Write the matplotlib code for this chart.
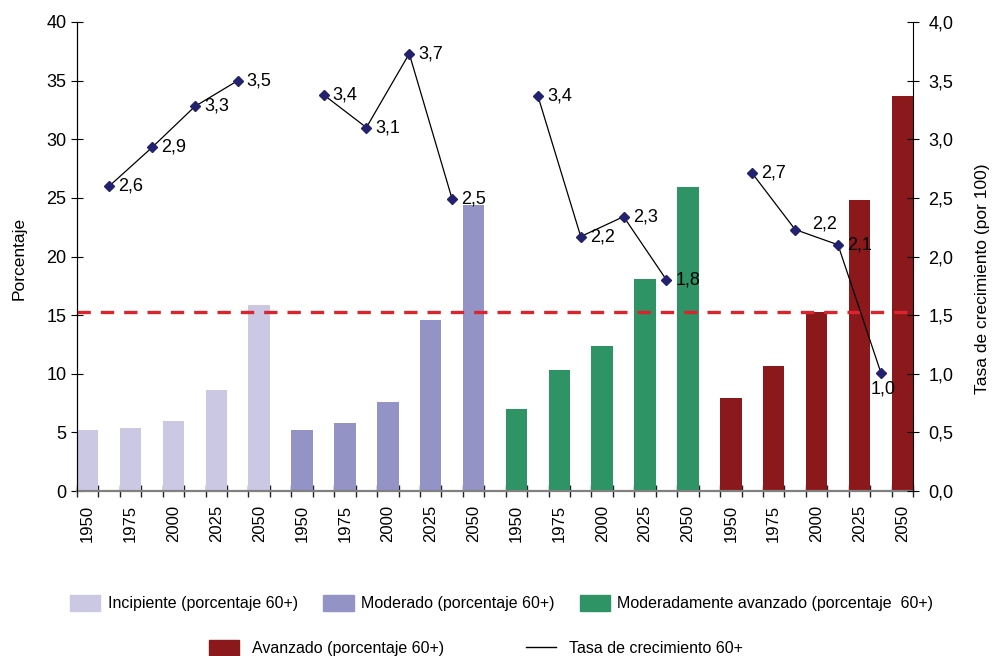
import matplotlib
matplotlib.use("Agg")
import matplotlib.pyplot as plt
from matplotlib.patches import Patch
from matplotlib.lines import Line2D

plt.rcParams["font.family"] = ["Liberation Sans", "DejaVu Sans"]

# Datos
anios = ["1950", "1975", "2000", "2025", "2050"]
incipiente = [5.2, 5.4, 6.0, 8.6, 15.9]
moderado = [5.2, 5.8, 7.6, 14.6, 24.4]
mod_avanzado = [7.0, 10.3, 12.4, 18.1, 25.9]
avanzado = [7.9, 10.7, 15.3, 24.8, 33.7]

tasa_incipiente = [2.60, 2.93, 3.28, 3.50]
tasa_moderado = [3.38, 3.10, 3.73, 2.49]
tasa_mod_avanzado = [3.37, 2.17, 2.34, 1.80]
tasa_avanzado = [2.71, 2.23, 2.10, 1.01]

umbral = 15.3

grupos = [
    ("Incipiente (porcentaje 60+)", incipiente, tasa_incipiente, "#cac8e3"),
    ("Moderado (porcentaje 60+)", moderado, tasa_moderado, "#9393c6"),
    ("Moderadamente avanzado (porcentaje  60+)", mod_avanzado, tasa_mod_avanzado, "#2e9466"),
    ("Avanzado (porcentaje 60+)", avanzado, tasa_avanzado, "#8b181b"),
]

fig = plt.figure(figsize=(9.92, 6.56), dpi=100)
ax = fig.add_axes([77 / 992, 1 - 491 / 656, (913 - 77) / 992, (491 - 22) / 656])
ax2 = ax.twinx()

# Cada barra ocupa una casilla, con una casilla vacia entre barras
centros = []
etiquetas = []
for g, (nombre, valores, tasas, color) in enumerate(grupos):
    xs = [10 * g + 2 * i + 0.5 for i in range(len(valores))]
    ax.bar(xs, valores, width=1.0, color=color, zorder=2)
    centros += xs
    etiquetas += anios

    # tasa de crecimiento entre barras
    xt = [10 * g + 2 * i + 1.5 for i in range(len(tasas))]
    ax2.plot(xt, tasas, color="black", lw=0.9, marker="D", markersize=5,
             markerfacecolor="#22226e", markeredgecolor="#22226e", zorder=4)
    for i, (x, v) in enumerate(zip(xt, tasas)):
        texto = f"{v:.1f}".replace(".", ",")
        off, ha, va = (6.5, 0), "left", "center"
        if g == 3 and i == 1:
            off = (12, 4)
        if g == 3 and i == 3:
            off, ha, va = (2, -6), "center", "top"
        ax2.annotate(texto, (x, v), xytext=off, textcoords="offset points",
                     ha=ha, va=va, fontsize=13, zorder=5)

ax.axhline(umbral, color="#d9262e", lw=2.4, dashes=(4, 3), zorder=3)

ax.set_xlim(0, 39)
ax.set_ylim(0, 40)
ax2.set_ylim(0, 4.0)
ax.set_yticks(range(0, 41, 5))
ax2.set_yticks([i * 0.5 for i in range(9)])
ax2.set_yticklabels([f"{i * 0.5:.1f}".replace(".", ",") for i in range(9)])

# bordes de las casillas como marcas, años como etiquetas
ax.set_xticks(range(0, 40))
ax.set_xticklabels([])
ax.set_xticks(centros, minor=True)
ax.set_xticklabels(etiquetas, minor=True, rotation=90, fontsize=12)
ax.tick_params(axis="x", which="major", direction="inout", length=8, width=1, color="#222222")
ax.tick_params(axis="x", which="minor", length=0, pad=10)
ax.tick_params(axis="y", direction="inout", length=9, labelsize=13, pad=3)
ax2.tick_params(axis="y", direction="inout", length=9, labelsize=13, pad=6.5)

for a in (ax, ax2):
    a.spines["top"].set_visible(False)
ax.spines["right"].set_visible(False)
ax.spines["bottom"].set_color("#808080")
ax.spines["bottom"].set_linewidth(1.6)
ax2.spines["bottom"].set_visible(False)
ax.set_zorder(ax2.get_zorder() - 1)
ax.patch.set_visible(False)

fig.text(19 / 992, 1 - 258 / 656, "Porcentaje", rotation=90, ha="center", va="center", fontsize=12.5)
fig.text(983 / 992, 1 - 279 / 656, "Tasa de crecimiento (por 100)", rotation=90,
         ha="center", va="center", fontsize=12.5)

# Leyendas
h1 = [Patch(color=c) for _, _, _, c in grupos[:3]]
fig.legend(h1, [n for n, _, _, _ in grupos[:3]], ncol=3, frameon=False,
           loc="center left", bbox_to_anchor=(70 / 992, 1 - 603 / 656),
           borderpad=0, borderaxespad=0, fontsize=11.5, handlelength=1.9,
           handleheight=1.15, handletextpad=0.45, columnspacing=1.6)

h2 = [Patch(color=grupos[3][3]), Line2D([0], [0], color="black", lw=1)]
fig.legend(h2, [grupos[3][0], "Tasa de crecimiento 60+"], ncol=2, frameon=False,
           loc="center left", bbox_to_anchor=(209 / 992, 1 - 648 / 656),
           borderpad=0, borderaxespad=0, fontsize=11.5, handlelength=1.9,
           handleheight=1.15, handletextpad=0.8, columnspacing=5.1)

fig.savefig("out.png", dpi=100)
